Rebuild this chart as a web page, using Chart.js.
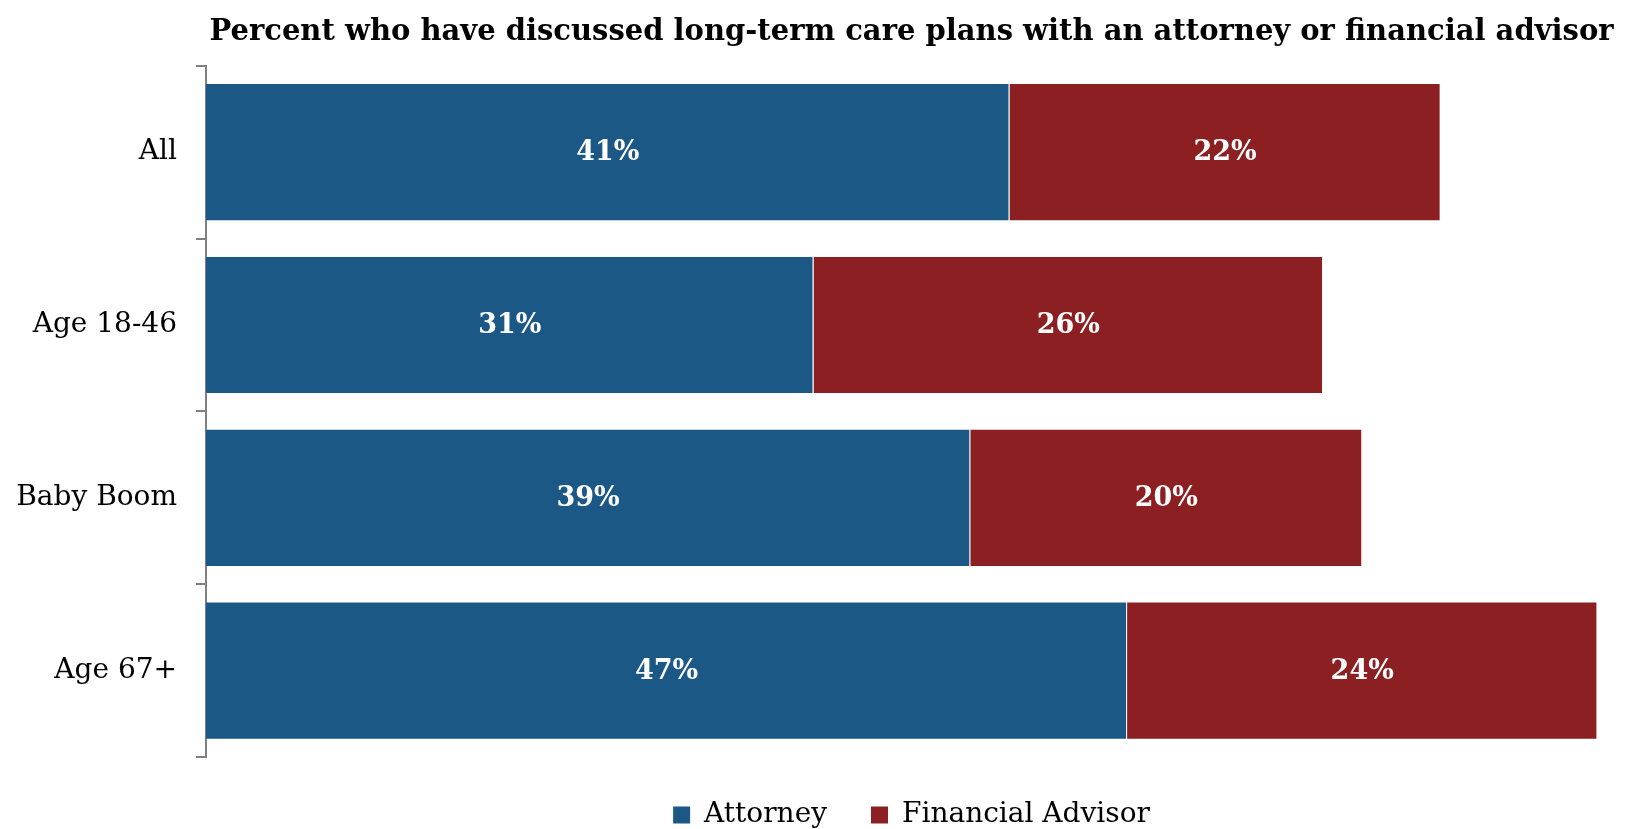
<!DOCTYPE html>
<html>
<head>
<meta charset="utf-8">
<script src="https://cdn.jsdelivr.net/npm/chart.js@4.4.0/dist/chart.umd.min.js"></script>
<style>
    html, body { margin: 0; padding: 0; background: #ffffff; }
    #wrap { width: 1637px; height: 829px; position: relative; }
</style>
</head>
<body>
<div id="wrap"><canvas id="ltc-chart"></canvas></div>
<script>
const groups = ['All', 'Age 18-46', 'Baby Boom', 'Age 67+'];
const attorney = [41, 31, 39, 47];
const financialAdvisor = [22, 26, 20, 24];

const SERIF = "'DejaVu Serif', 'Liberation Serif', serif";

// white value labels in the middle of each segment
const segmentLabels = {
    id: 'segmentLabels',
    afterDatasetsDraw(chart) {
        const ctx = chart.ctx;
        ctx.save();
        ctx.fillStyle = '#ffffff';
        ctx.font = `bold 27px ${SERIF}`;
        ctx.textAlign = 'center';
        ctx.textBaseline = 'middle';
        chart.data.datasets.forEach((ds, i) => {
            const meta = chart.getDatasetMeta(i);
            meta.data.forEach((bar, j) => {
                const p = bar.getCenterPoint();
                ctx.fillText(ds.data[j] + '%', p.x, p.y + 1);
            });
        });
        ctx.restore();
    }
};

new Chart(document.getElementById('ltc-chart'), {
    type: 'bar',
    data: {
        labels: groups,
        datasets: [
            {
                label: 'Attorney',
                data: attorney,
                backgroundColor: '#1b5886',
                borderColor: 'rgba(255,255,255,0.2)',
                borderWidth: 1
            },
            {
                label: 'Financial Advisor',
                data: financialAdvisor,
                backgroundColor: '#8b1f22',
                borderColor: 'rgba(255,255,255,0.2)',
                borderWidth: 1
            }
        ]
    },
    options: {
        indexAxis: 'y',
        responsive: true,
        maintainAspectRatio: false,
        animation: false,
        barPercentage: 0.8,
        categoryPercentage: 1,
        layout: { padding: { left: 0, right: 20, top: 0, bottom: -10 } },
        scales: {
            x: {
                stacked: true,
                display: false,
                min: 0,
                max: 72
            },
            y: {
                stacked: true,
                afterFit(scale) { scale.width = 206; },
                border: { display: true, color: '#808080', width: 2 },
                grid: {
                    drawOnChartArea: false,
                    drawTicks: true,
                    tickLength: 10,
                    color: '#808080',
                    lineWidth: 2
                },
                ticks: {
                    padding: 19,
                    color: '#000000',
                    font: { family: SERIF, size: 28 }
                }
            }
        },
        plugins: {
            title: {
                display: true,
                fullSize: false,
                text: 'Percent who have discussed long-term care plans with an attorney or financial advisor',
                color: '#000000',
                font: { family: SERIF, size: 29, weight: 'bold', lineHeight: 1.2 },
                padding: { top: 15, bottom: 16 }
            },
            legend: {
                display: true,
                position: 'bottom',
                fullSize: false,
                labels: {
                    boxWidth: 17,
                    boxHeight: 17,
                    padding: 44,
                    color: '#000000',
                    font: { family: SERIF, size: 28 },
                    generateLabels(chart) {
                        return Chart.defaults.plugins.legend.labels.generateLabels(chart)
                            .map(item => Object.assign(item, { lineWidth: 0 }));
                    }
                }
            },
            tooltip: { enabled: false }
        }
    },
    plugins: [segmentLabels]
});
</script>
</body>
</html>
